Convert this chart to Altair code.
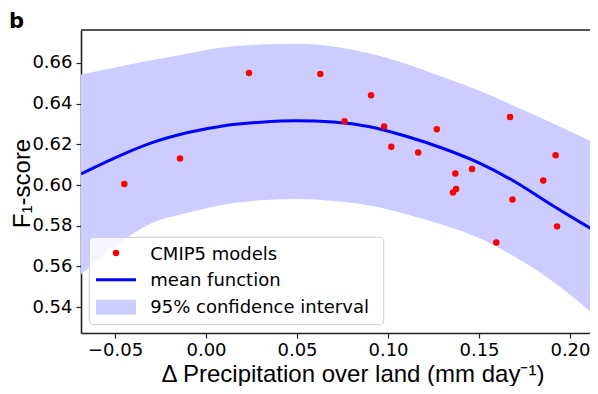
import altair as alt
import pandas as pd

# ---- data ----
model_x = [-0.0449, -0.0143, 0.0236, 0.0628, 0.0761, 0.0907, 0.0979, 0.1018, 0.1166, 0.1268,
           0.1357, 0.1374, 0.1370, 0.1462, 0.1595, 0.1671, 0.1684, 0.1853, 0.1921, 0.1929]
model_f1 = [0.6005, 0.6130, 0.6551, 0.6546, 0.6314, 0.6441, 0.6288, 0.6188, 0.6160, 0.6274,
            0.5964, 0.5981, 0.6057, 0.6079, 0.5718, 0.6335, 0.5929, 0.6022, 0.6146, 0.5797]

curve_x = [-0.0687, -0.05, -0.03, -0.01, 0.01, 0.03, 0.05, 0.07, 0.09, 0.11, 0.13, 0.15, 0.17, 0.19, 0.2154]
mean_f1 = [0.6055, 0.6134, 0.6207, 0.6258, 0.6292, 0.6309, 0.6316, 0.6310, 0.6287, 0.6240, 0.6181, 0.6109, 0.6015, 0.5902, 0.5765]
upper_f1 = [0.6543, 0.6578, 0.6613, 0.6647, 0.6677, 0.6691, 0.6694, 0.6681, 0.6646, 0.6595, 0.6531, 0.6465, 0.6386, 0.6306, 0.6199]
lower_f1 = [0.5560, 0.5700, 0.5812, 0.5864, 0.5905, 0.5925, 0.5932, 0.5922, 0.5900, 0.5857, 0.5805, 0.5740, 0.5646, 0.5530, 0.5347]

x_ticks = [-0.05, 0.00, 0.05, 0.10, 0.15, 0.20]
y_ticks = [0.54, 0.56, 0.58, 0.60, 0.62, 0.64, 0.66]
legend_labels = ["CMIP5 models", "mean function", "95% confidence interval"]
panel_label = "b"
x_title = "Δ Precipitation over land (mm day⁻¹)"
y_title = "F₁-score"

W, H = 509, 303
X_DOMAIN = [-0.0687, 0.2110]
Y_DOMAIN = [0.5273, 0.6762]

pts = pd.DataFrame({"x": model_x, "y": model_f1})
cur = pd.DataFrame({"x": curve_x, "mean": mean_f1, "upper": upper_f1, "lower": lower_f1})
one = pd.DataFrame({"k": [0]})

xscale = alt.Scale(domain=X_DOMAIN, nice=False, zero=False)
yscale = alt.Scale(domain=Y_DOMAIN, nice=False, zero=False)

xaxis = alt.Axis(values=x_ticks, format=".2f", title=x_title, grid=False,
                 labelFont="DejaVu Sans", labelFontSize=18, labelColor="#000", labelPadding=3,
                 tickSize=5, tickColor="#222", tickWidth=1.2,
                 domainColor="#222", domainWidth=1.6,
                 titleFont="Liberation Sans", titleFontSize=24, titleFontWeight="normal", titleColor="#000",
                 titleX=271.5, titleY=48.5, titleBaseline="alphabetic", titleAlign="center")
yaxis = alt.Axis(values=y_ticks, format=".2f", title=y_title, grid=False,
                 labelFont="DejaVu Sans", labelFontSize=18, labelColor="#000", labelPadding=4,
                 tickSize=5, tickColor="#222", tickWidth=1.2,
                 domainColor="#222", domainWidth=1.6,
                 titleFont="Liberation Sans", titleFontSize=24, titleFontWeight="normal", titleColor="#000",
                 titleX=-52, titleY=153, titleBaseline="alphabetic", titleAlign="center", titleAngle=270)

band = alt.Chart(cur).mark_area(color="#ccccff", opacity=1, clip=True, interpolate="monotone").encode(
    x=alt.X("x:Q", scale=xscale, axis=xaxis),
    y=alt.Y("upper:Q", scale=yscale, axis=yaxis),
    y2="lower:Q",
)
line = alt.Chart(cur).mark_line(color="#0000ff", strokeWidth=3, clip=True, interpolate="monotone").encode(
    x=alt.X("x:Q", scale=xscale),
    y=alt.Y("mean:Q", scale=yscale),
)
points = alt.Chart(pts).mark_point(filled=True, color="#ff0000", opacity=1, size=42, shape="circle").encode(
    x=alt.X("x:Q", scale=xscale),
    y=alt.Y("y:Q", scale=yscale),
)

top_border = alt.Chart(one).mark_rule(color="#222", strokeWidth=1.6).encode(
    x=alt.value(0), x2=alt.value(W), y=alt.value(0)
)

# legend (drawn by hand, matplotlib style)
leg_box = alt.Chart(one).mark_rect(fill="white", fillOpacity=0.8, stroke="#cccccc", strokeWidth=1,
                                   cornerRadius=4).encode(
    x=alt.value(8.3), x2=alt.value(302.7), y=alt.value(207.3), y2=alt.value(294.7)
)
leg_dot = alt.Chart(one).mark_point(filled=True, color="#ff0000", opacity=1, size=42, shape="circle").encode(
    x=alt.value(35), y=alt.value(223)
)
leg_line = alt.Chart(one).mark_rule(color="#0000ff", strokeWidth=3).encode(
    x=alt.value(15), x2=alt.value(55), y=alt.value(249.7)
)
leg_patch = alt.Chart(one).mark_rect(fill="#ccccff").encode(
    x=alt.value(15), x2=alt.value(55), y=alt.value(269.7), y2=alt.value(284.7)
)
leg_text = []
for lab, yy in zip(legend_labels, [229.7, 256.3, 283.0]):
    leg_text.append(
        alt.Chart(one).mark_text(font="DejaVu Sans", fontSize=18, color="#000", align="left",
                                 baseline="alphabetic").encode(
            x=alt.value(69.3), y=alt.value(yy), text=alt.value(lab)
        )
    )

panel = alt.Chart(one).mark_text(font="DejaVu Sans", fontSize=21, fontWeight="bold", color="#000",
                                 align="left", baseline="alphabetic").encode(
    x=alt.value(-72), y=alt.value(-2), text=alt.value(panel_label)
)

chart = alt.layer(
    band, line, points, top_border, leg_box, leg_patch, leg_line, leg_dot, *leg_text, panel
).properties(
    width=W, height=H,
    padding={"left": 73, "top": 22, "right": 0, "bottom": 53},
    autosize=alt.AutoSizeParams(type="none"),
).configure_view(stroke=None).configure(background="white")

chart.save("out.html", embed_options={"renderer": "svg", "actions": False})
